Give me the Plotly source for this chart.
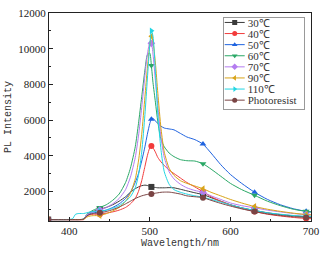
import plotly.graph_objects as go

wavelength = [374, 385, 395, 404, 408, 412, 418, 422, 426, 430, 438, 446, 454, 462, 470, 476, 482, 486, 490,
              494, 497, 500, 502, 504, 507, 510, 514, 518, 524, 530, 538, 546, 556, 566, 576, 588, 600, 614,
              630, 646, 662, 678, 694, 700]
marker_wavelengths = [374, 438, 502, 566, 630, 694]

s30 = [420, 420, 420, 420, 420, 420, 450, 700, 820, 880, 1000, 1100, 1250, 1450, 1700, 1950, 2150, 2250, 2320,
       2350, 2330, 2280, 2250, 2230, 2220, 2200, 2200, 2200, 2210, 2200, 2120, 2030, 1920, 1820, 1650, 1450, 1250,
       1080, 930, 800, 700, 630, 580, 560]
s40 = [410, 410, 410, 410, 410, 410, 420, 620, 700, 720, 720, 780, 850, 950, 1100, 1300, 1600, 2000, 2600,
       3400, 4000, 4450, 4550, 4450, 4200, 3900, 3650, 3450, 3200, 3000, 2750, 2500, 2250, 1980, 1700, 1450, 1250,
       1050, 870, 720, 620, 540, 480, 470]
s50 = [420, 420, 420, 420, 420, 420, 440, 650, 760, 800, 850, 950, 1100, 1300, 1600, 1950, 2500, 3000, 3700,
       4500, 5200, 5800, 6050, 6100, 5950, 5800, 5650, 5550, 5500, 5450, 5250, 5050, 4900, 4650, 4150, 3500, 2950,
       2450, 1950, 1550, 1250, 1030, 880, 850]
s60 = [420, 420, 420, 420, 420, 420, 450, 700, 850, 950, 1100, 1250, 1500, 1850, 2500, 3300, 4500, 5800, 7300,
       8800, 9650, 9750, 9050, 8100, 7000, 5900, 4900, 4500, 4150, 3950, 3780, 3720, 3700, 3550, 3250, 2850, 2450,
       2100, 1780, 1450, 1200, 1000, 880, 850]
s70 = [420, 420, 420, 420, 420, 420, 440, 680, 800, 860, 950, 1100, 1300, 1600, 2100, 2800, 3900, 5100, 6700,
       8500, 9700, 10300, 10300, 9700, 8200, 6800, 5000, 3900, 3100, 2700, 2400, 2200, 2050, 1950, 1750, 1550, 1350,
       1200, 1080, 950, 850, 760, 700, 680]
s90 = [420, 420, 420, 420, 420, 420, 430, 560, 620, 640, 650, 750, 900, 1100, 1450, 1900, 2700, 3700, 5200,
       7300, 8900, 10200, 10700, 10400, 9200, 7500, 5500, 4200, 3300, 2900, 2600, 2450, 2300, 2150, 1950, 1750,
       1550, 1350, 1150, 1000, 880, 780, 700, 680]
s110 = [420, 420, 420, 460, 720, 760, 760, 800, 850, 870, 900, 950, 1050, 1200, 1450, 1700, 2200, 2900, 4200,
        6300, 8300, 10200, 11000, 10700, 8700, 6300, 4300, 3100, 2400, 2100, 1950, 1850, 1750, 1680, 1550, 1400,
        1250, 1080, 930, 800, 720, 650, 600, 590]
sphoto = [420, 420, 420, 420, 420, 420, 440, 620, 720, 760, 800, 870, 980, 1120, 1300, 1450, 1600, 1680, 1750,
          1800, 1830, 1840, 1850, 1870, 1900, 1920, 1950, 1960, 1960, 1920, 1850, 1750, 1700, 1650, 1500, 1330,
          1180, 1020, 870, 740, 650, 580, 540, 530]

names = ["30℃", "40℃", "50℃", "60℃", "70℃", "90℃", "110℃", "Photoresist"]
series = [s30, s40, s50, s60, s70, s90, s110, sphoto]
colors = ["#3a3a3a", "#f23b3b", "#1f63e0", "#2aa866", "#b47cf0", "#d9a418", "#22d6e3", "#7a4444"]
symbols = ["square", "circle", "triangle-up", "triangle-down", "diamond", "triangle-left", "triangle-right",
           "circle"]
y_ticks = [2000, 4000, 6000, 8000, 10000, 12000]
y_minor = [1000, 3000, 5000, 7000, 9000, 11000]

mk_idx = [wavelength.index(w) for w in marker_wavelengths]

SERIF = "Liberation Serif, Times New Roman, serif"
MONO = "Liberation Mono, Courier New, monospace"

fig = go.Figure()
for name, ys, col, sym in zip(names, series, colors, symbols):
    fig.add_trace(go.Scatter(x=wavelength, y=ys, mode="lines", line=dict(color=col, width=1, shape="spline",
                                                                          smoothing=0.6),
                             showlegend=False, legendgroup=name, hoverinfo="skip"))
    fig.add_trace(go.Scatter(x=[wavelength[i] for i in mk_idx], y=[ys[i] for i in mk_idx], mode="markers",
                             marker=dict(symbol=sym, color=col, size=6), showlegend=False, legendgroup=name))
    fig.add_trace(go.Scatter(x=[None], y=[None], mode="lines+markers", name=name,
                             line=dict(color=col, width=1), marker=dict(symbol=sym, color=col, size=5),
                             legendgroup=name))

axis_common = dict(showline=True, linecolor="#222", linewidth=1.3, mirror=True, ticks="inside", ticklen=4,
                   tickcolor="#222", showgrid=False, zeroline=False,
                   tickfont=dict(family=SERIF, size=11, color="#222"))

fig.update_layout(
    width=327, height=253,
    margin=dict(l=49, r=11, t=7, b=31),
    paper_bgcolor="white", plot_bgcolor="white",
    xaxis=dict(range=[375, 700], dtick=100, tick0=400, tickformat="d",
               minor=dict(dtick=50, ticks="inside", ticklen=2, tickcolor="#222"),
               title=dict(text="Wavelength/nm", font=dict(family=MONO, size=10, color="#333"),
                          standoff=2),
               **axis_common),
    yaxis=dict(range=[340, 12000], tickvals=y_ticks, ticktext=[str(v) for v in y_ticks],
               minor=dict(tickvals=y_minor, ticks="inside", ticklen=2, tickcolor="#222"),
               title=dict(text="PL Intensity", font=dict(family=MONO, size=10, color="#333"),
                          standoff=4),
               **axis_common),
    legend=dict(x=0.663, y=0.981, xanchor="left", yanchor="top", bgcolor="white", bordercolor="#999",
                borderwidth=1, font=dict(family=SERIF, size=11, color="#333"),
                tracegroupgap=0, itemwidth=30),
    showlegend=True,
)

post = """
document.body.style.margin = '0';
document.body.style.padding = '0';
var gd = document.getElementById('{plot_id}');
function compactLegend(){
  var leg = gd.querySelector('.legend');
  if(!leg) return;
  var tr = leg.querySelectorAll('.traces');
  var step = 11.1, top = 5.5;
  tr.forEach(function(t, i){
    t.setAttribute('transform', 'translate(0,' + (top + i*step) + ')');
    var txt = t.querySelector('text.legendtext');
    if(txt){ txt.setAttribute('x', 25); }
    t.querySelectorAll('path.js-line').forEach(function(p){ p.setAttribute('d', 'M2,0h20'); });
    t.querySelectorAll('g.legendpoints path.scatterpts').forEach(function(p){
      p.setAttribute('transform', 'translate(12,0)');
    });
  });
  var bg = leg.querySelector('rect.bg');
  if(bg){ bg.setAttribute('height', top + 8*step - 2); bg.setAttribute('width', 81); }
}
compactLegend();
gd.on('plotly_afterplot', compactLegend);
"""

fig.write_html("out.html", post_script=post, config={"displayModeBar": False})
